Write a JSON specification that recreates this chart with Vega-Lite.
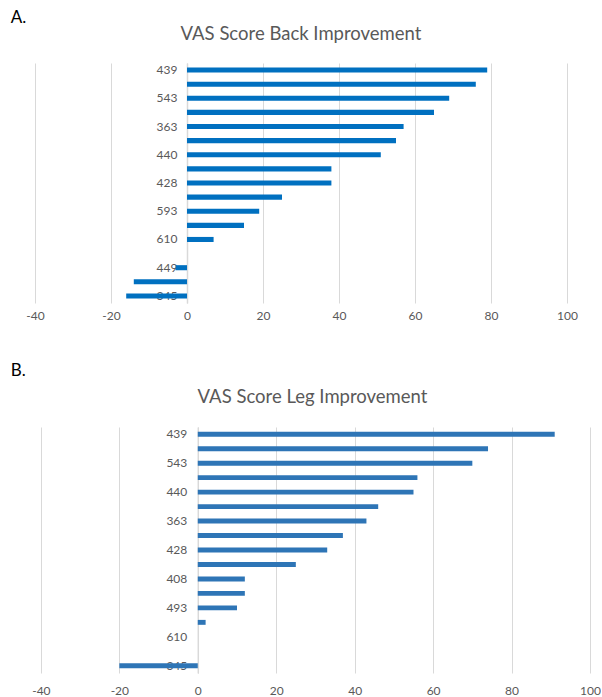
{
  "$schema": "https://vega.github.io/schema/vega-lite/v6.json",
  "background": "white",
  "padding": {"left": 10, "top": 8, "right": 0, "bottom": 5},
  "config": {
    "font": "Lato",
    "view": {"stroke": null},
    "axis": {"labelColor": "#595959", "labelFontSize": 12, "labelFont": "Lato", "labelFlush": false}
  },
  "datasets": {
    "back": [
      {"patient": "439", "vas_change": 79},
      {"patient": "r2", "vas_change": 76},
      {"patient": "543", "vas_change": 69},
      {"patient": "r4", "vas_change": 65},
      {"patient": "363", "vas_change": 57},
      {"patient": "r6", "vas_change": 55},
      {"patient": "440", "vas_change": 51},
      {"patient": "r8", "vas_change": 38},
      {"patient": "428", "vas_change": 38},
      {"patient": "r10", "vas_change": 25},
      {"patient": "593", "vas_change": 19},
      {"patient": "r12", "vas_change": 15},
      {"patient": "610", "vas_change": 7},
      {"patient": "r14", "vas_change": 0},
      {"patient": "449", "vas_change": -3},
      {"patient": "r16", "vas_change": -14},
      {"patient": "345", "vas_change": -16}
    ],
    "leg": [
      {"patient": "439", "vas_change": 91},
      {"patient": "r2", "vas_change": 74},
      {"patient": "543", "vas_change": 70},
      {"patient": "r4", "vas_change": 56},
      {"patient": "440", "vas_change": 55},
      {"patient": "r6", "vas_change": 46},
      {"patient": "363", "vas_change": 43},
      {"patient": "r8", "vas_change": 37},
      {"patient": "428", "vas_change": 33},
      {"patient": "r10", "vas_change": 25},
      {"patient": "408", "vas_change": 12},
      {"patient": "r12", "vas_change": 12},
      {"patient": "493", "vas_change": 10},
      {"patient": "r14", "vas_change": 2},
      {"patient": "610", "vas_change": 0},
      {"patient": "r16", "vas_change": 0},
      {"patient": "345", "vas_change": -20}
    ]
  },
  "spacing": 40,
  "vconcat": [
    {
      "title": {"text": "A.", "anchor": "start", "fontSize": 17, "fontWeight": "normal", "color": "#000000", "font": "Lato", "dx": -15, "offset": -2},
      "vconcat": [
        {
          "width": 532,
          "height": 240,
          "title": {"text": "VAS Score Back Improvement", "anchor": "middle", "fontSize": 18.5, "fontWeight": "normal", "color": "#595959", "font": "Lato", "offset": 20},
          "data": {"name": "back"},
          "mark": {"type": "bar", "color": "#0070C0"},
          "encoding": {
            "y": {
              "field": "patient", "type": "nominal", "sort": null,
              "scale": {"paddingInner": 0.64, "paddingOuter": 0.32},
              "axis": {"title": null, "offset": -152, "ticks": false, "grid": false, "domainColor": "#D9D9D9", "domainWidth": 1.5, "labelPadding": 10, "labelExpr": "indexof(datum.label, 'r') === 0 ? '' : datum.label"}
            },
            "x": {
              "field": "vas_change", "type": "quantitative",
              "scale": {"domain": [-40, 100], "nice": false, "zero": false},
              "axis": {"title": null, "values": [-40, -20, 0, 20, 40, 60, 80, 100], "grid": true, "gridColor": "#D9D9D9", "domain": false, "ticks": false, "labelPadding": 7, "labelExpr": "replace(datum.label, '\u2212', '-')"}
            }
          }
        }
      ]
    },
    {
      "title": {"text": "B.", "anchor": "start", "fontSize": 17, "fontWeight": "normal", "color": "#000000", "font": "Lato", "dx": -21, "offset": 8},
      "vconcat": [
        {
          "width": 555,
          "height": 246,
          "title": {"text": "VAS Score Leg Improvement", "anchor": "middle", "fontSize": 18.5, "fontWeight": "normal", "color": "#595959", "font": "Lato", "offset": 21},
          "data": {"name": "leg"},
          "mark": {"type": "bar", "color": "#2E75B6"},
          "encoding": {
            "y": {
              "field": "patient", "type": "nominal", "sort": null,
              "scale": {"paddingInner": 0.66, "paddingOuter": 0.33},
              "axis": {"title": null, "offset": -162.8, "ticks": false, "grid": false, "domainColor": "#D9D9D9", "domainWidth": 1.5, "labelPadding": 11, "labelExpr": "indexof(datum.label, 'r') === 0 ? '' : datum.label"}
            },
            "x": {
              "field": "vas_change", "type": "quantitative",
              "scale": {"domain": [-41.5, 100], "nice": false, "zero": false},
              "axis": {"title": null, "values": [-40, -20, 0, 20, 40, 60, 80, 100], "grid": true, "gridColor": "#D9D9D9", "domain": false, "ticks": false, "labelPadding": 12, "labelExpr": "replace(datum.label, '\u2212', '-')"}
            }
          }
        }
      ]
    }
  ]
}
